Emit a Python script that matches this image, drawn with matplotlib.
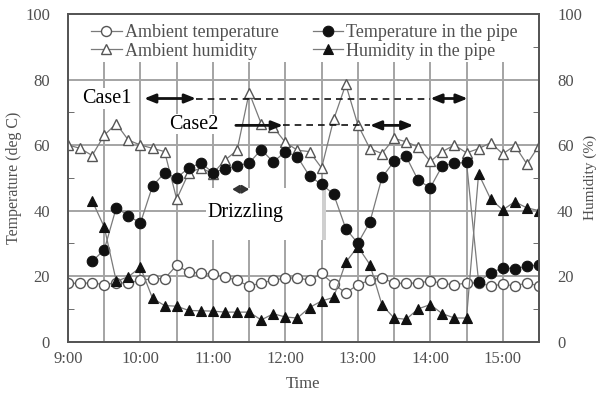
import matplotlib
matplotlib.use('Agg')
import matplotlib.pyplot as plt
import numpy as np
from matplotlib.patches import Rectangle
from matplotlib.ticker import MultipleLocator

# ---------------- data ----------------
time_labels = ["9:00", "9:10", "9:20", "9:30", "9:40", "9:50",
               "10:00", "10:10", "10:20", "10:30", "10:40", "10:50",
               "11:00", "11:10", "11:20", "11:30", "11:40", "11:50",
               "12:00", "12:10", "12:20", "12:30", "12:40", "12:50",
               "13:00", "13:10", "13:20", "13:30", "13:40", "13:50",
               "14:00", "14:10", "14:20", "14:30", "14:40", "14:50",
               "15:00", "15:10", "15:20", "15:30"]

ambient_temp = [17.8, 17.8, 17.9, 17.4, 17.9, 17.9, 18.7, 19.2, 19.2, 23.3,
                21.2, 20.9, 20.5, 19.7, 18.7, 16.9, 17.9, 18.7, 19.4, 19.4,
                18.8, 20.8, 17.5, 14.9, 17.3, 18.8, 19.5, 17.8, 17.8, 17.9,
                18.5, 17.8, 17.3, 17.9, 17.9, 17.0, 17.5, 17.0, 17.9, 17.0]

ambient_hum = [60.0, 59.0, 56.8, 63.0, 66.5, 61.5, 60.0, 59.0, 58.0, 43.5,
               51.5, 53.0, 51.3, 55.4, 58.4, 76.0, 66.5, 65.5, 60.8, 58.4,
               58.0, 53.0, 67.8, 78.5, 66.2, 58.9, 57.4, 62.0, 61.0, 59.4,
               55.0, 58.0, 60.0, 57.6, 58.9, 60.7, 57.3, 59.8, 54.2, 59.8]

pipe_temp = [np.nan, np.nan, 24.5, 28.0, 40.9, 38.4, 36.2, 47.5, 51.5, 50.0,
             53.0, 54.5, 51.6, 52.7, 53.7, 54.5, 58.6, 54.8, 58.0, 56.4,
             50.5, 48.0, 45.0, 34.5, 30.0, 36.5, 50.1, 55.0, 56.5, 49.2,
             47.0, 53.7, 54.4, 54.7, 18.3, 21.0, 22.5, 22.3, 23.0, 23.4]

pipe_hum = [np.nan, np.nan, 43.0, 35.0, 18.4, 19.8, 22.7, 13.2, 11.0, 10.8,
            9.5, 9.4, 9.3, 9.0, 9.0, 9.0, 6.6, 8.5, 7.5, 7.2,
            10.4, 12.4, 13.5, 24.2, 29.0, 23.5, 11.2, 7.2, 6.8, 10.0,
            11.3, 8.5, 7.2, 7.2, 51.2, 43.5, 40.2, 42.7, 40.8, 40.0]

hour_labels = ["9:00", "10:00", "11:00", "12:00", "13:00", "14:00", "15:00"]
y_ticks = [0, 20, 40, 60, 80, 100]


def to_min(s):
    h, m = s.split(":")
    return (int(h) - 9) * 60 + int(m)


t = np.array([to_min(s) for s in time_labels])
hour_pos = [to_min(s) for s in hour_labels]

SERIF = "Liberation Serif"
plt.rcParams['font.family'] = [SERIF, 'DejaVu Serif']

fig = plt.figure(figsize=(5.98, 3.94), dpi=100)
ax = fig.add_axes([0.1137, 0.133, 0.7876, 0.8315])
ax.set_xlim(0, 390)
ax.set_ylim(0, 100)
ax.set_axisbelow(True)

gridc = '#a4a4a4'
textc = '#505050'
linec = '#7a7a7a'

ax.set_xticks(hour_pos)
ax.set_xticklabels(hour_labels)
ax.xaxis.set_minor_locator(MultipleLocator(30))
ax.set_yticks(y_ticks)
ax.yaxis.set_minor_locator(MultipleLocator(10))
ax.grid(True, which='both', axis='x', color=gridc, lw=1.4)
ax.grid(True, which='major', axis='y', color=gridc, lw=1.4)
ax.tick_params(axis='x', which='both', length=0, pad=7, labelsize=12, labelcolor=textc)
ax.tick_params(axis='y', which='major', direction='in', length=0, pad=13,
               labelsize=12, labelcolor=textc)
ax.tick_params(axis='y', which='minor', direction='in', length=4, color='#555')
for sp in ax.spines.values():
    sp.set_color('#555555')
    sp.set_linewidth(1.3)

# white areas (legend band, drizzling box)
ax.add_patch(Rectangle((0, 0.853), 1, 0.147, transform=ax.transAxes,
                       fc='white', ec='none', zorder=1))
ax.add_patch(Rectangle((114, 31), 96, 16, fc='white', ec='none', zorder=1))
ax.add_patch(Rectangle((210, 31), 3.5, 16, fc='#cfcfcf', ec='none', zorder=1.1))

l1, = ax.plot(t, ambient_temp, color=linec, lw=0.9, marker='o', ms=7.2,
              mfc='white', mec='#555555', mew=1.0, zorder=4,
              label='Ambient temperature')
l2, = ax.plot(t, ambient_hum, color=linec, lw=0.9, marker='^', ms=7.8,
              mfc='white', mec='#555555', mew=1.0, zorder=4,
              label='Ambient humidity')
l3, = ax.plot(t, pipe_temp, color=linec, lw=0.9, marker='o', ms=7.6,
              mfc='#111111', mec='#111111', mew=0.8, zorder=5,
              label='Temperature in the pipe')
l4, = ax.plot(t, pipe_hum, color=linec, lw=0.9, marker='^', ms=7.8,
              mfc='#111111', mec='#111111', mew=0.8, zorder=5,
              label='Humidity in the pipe')

leg = ax.legend(handles=[l1, l2, l3, l4], ncol=2, loc='upper left',
                bbox_to_anchor=(0.028, 1.0), frameon=False,
                prop={'family': SERIF, 'size': 13}, labelcolor=textc,
                handlelength=1.7, handletextpad=0.15, columnspacing=1.9,
                labelspacing=0.1, borderaxespad=0.15)
leg.set_zorder(6)

ax.set_xlabel('Time', fontsize=12, color=textc, labelpad=6)
ax.set_ylabel('Temperature (deg C)', fontsize=11.5, color=textc, labelpad=2)

# right axis
ax2 = ax.twinx()
ax2.set_ylim(0, 100)
ax2.set_yticks(y_ticks)
ax2.yaxis.set_minor_locator(MultipleLocator(10))
ax2.tick_params(axis='y', which='major', direction='in', length=0, pad=13,
                labelsize=12, labelcolor=textc)
ax2.tick_params(axis='y', which='minor', direction='in', length=4, color='#555')
for sp in ax2.spines.values():
    sp.set_color('#555555')
    sp.set_linewidth(1.3)
ax2.set_ylabel('Humidity (%)', fontsize=11, color=textc, labelpad=1)

# annotations
afs = 14.5
bb = dict(fc='white', ec='none', pad=0.5)
ax.text(11.6, 74.2, 'Case1', fontsize=afs, ha='left', va='center', color='black',
        bbox=bb, zorder=6)
ax.text(84, 66.3, 'Case2', fontsize=afs, ha='left', va='center', color='black',
        bbox=bb, zorder=6)
ax.text(115.5, 39.5, 'Drizzling', fontsize=afs, ha='left', va='center', color='black',
        zorder=6)

arrow_kw = dict(arrowstyle='<|-|>,head_length=0.55,head_width=0.22', color='#111111',
                lw=2.0, shrinkA=0, shrinkB=0, mutation_scale=12)
right_kw = dict(arrowstyle='-|>,head_length=0.55,head_width=0.22', color='#111111',
                lw=2.0, shrinkA=0, shrinkB=0, mutation_scale=12)

# Case 1
ax.annotate('', xy=(106, 74.2), xytext=(63, 74.2), arrowprops=arrow_kw, zorder=7)
ax.plot([106, 300], [74.2, 74.2], ls=(0, (4, 3)), color='#111111', lw=1.2, zorder=6)
ax.annotate('', xy=(331, 74.2), xytext=(300, 74.2), arrowprops=arrow_kw, zorder=7)
# Case 2
ax.annotate('', xy=(178, 66.0), xytext=(139, 66.0), arrowprops=right_kw, zorder=7)
ax.plot([178, 250], [66.0, 66.0], ls=(0, (4, 3)), color='#111111', lw=1.2, zorder=6)
ax.annotate('', xy=(286, 66.0), xytext=(250, 66.0), arrowprops=arrow_kw, zorder=7)
# Drizzling
ax.annotate('', xy=(150, 46.5), xytext=(136, 46.5),
            arrowprops=dict(arrowstyle='<|-|>,head_length=0.5,head_width=0.3',
                            color='#333333', lw=1.5, shrinkA=0, shrinkB=0,
                            mutation_scale=8), zorder=7)

fig.savefig('out.png', dpi=100)
